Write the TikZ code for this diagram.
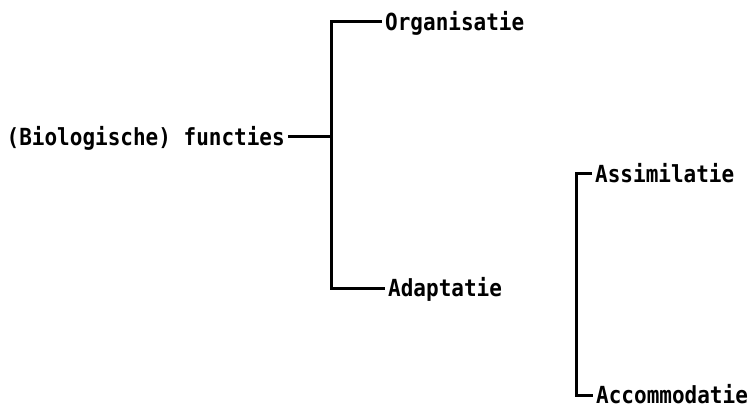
\documentclass[tikz,border=0pt]{standalone}
\usepackage{fontspec}
\newfontfamily\labelfont{DejaVu Sans Mono}
\newcommand{\tall}[1]{\scalebox{1}[1.12]{#1}}
\begin{document}
\begin{tikzpicture}[x=1pt,y=-1pt,
  lbl/.style={font=\labelfont\bfseries\fontsize{21}{21}\selectfont, inner xsep=3pt, inner ysep=0pt, text height=17.1pt, text depth=0pt},
  conn/.style={line width=3pt, line join=miter}]
\useasboundingbox (0,0) rectangle (748,412);
\node[lbl, anchor=east] (bio) at (288,137) {\tall{(Biologische) functies}};
\node[lbl, anchor=west] (org) at (382,21.5) {\tall{Organisatie}};
\node[lbl, anchor=west] (ada) at (385,288) {\tall{Adaptatie}};
\node[lbl, anchor=west] (ass) at (592,173.5) {\tall{Assimilatie}};
\node[lbl, anchor=west] (acc) at (593,395) {\tall{Accommodatie}};
\coordinate (lt) at (331,21.5);
\coordinate (lb) at (331,288);
\coordinate (lm) at (331,137);
\coordinate (rt) at (576,173.5);
\coordinate (rb) at (576,395);
\draw[conn] (org.west) -- (lt) -- (lb) -- (ada.west);
\draw[conn] (bio.east) -- (lm);
\draw[conn] (ass.west) -- (rt) -- (rb) -- (acc.west);
\end{tikzpicture}
\end{document}
